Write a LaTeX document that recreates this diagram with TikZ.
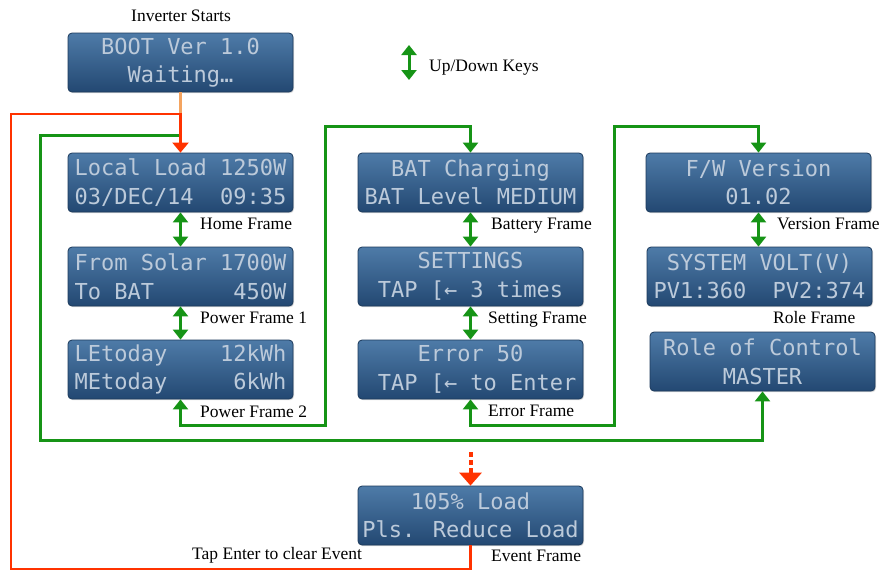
\documentclass[tikz,border=0pt]{standalone}
\usepackage{fontspec}
\setmainfont{Liberation Serif}
\newfontfamily\lcdfont{DejaVu Sans Mono}
\usetikzlibrary{arrows.meta,shadows}
\definecolor{lcdtop}{RGB}{78,123,168}
\definecolor{lcdbot}{RGB}{35,72,114}
\definecolor{lcdedge}{RGB}{28,58,92}
\definecolor{lcdtxt}{RGB}{188,202,218}
\definecolor{gline}{RGB}{22,148,22}
\definecolor{rline}{RGB}{255,51,0}
\definecolor{oline}{RGB}{244,164,96}
\begin{document}
\begin{tikzpicture}[x=1pt,y=-1pt,
 lcd/.style={rectangle, rounded corners=4pt, draw=lcdedge, line width=0.8pt,
   top color=lcdtop, bottom color=lcdbot, minimum width=225pt, minimum height=59pt,
   inner sep=0pt, text=lcdtxt, align=center,
   font=\lcdfont\fontsize{22}{28.5}\selectfont,
   drop shadow={shadow xshift=1pt,shadow yshift=-1.2pt,opacity=0.3}},
 lbl/.style={anchor=base west, font=\fontsize{17.5}{20}\selectfont, inner sep=0pt},
 gpath/.style={draw=gline, line width=3pt},
 gtip/.style={-{Triangle[width=15pt,length=10pt]}},
 gboth/.style={{Triangle[width=15pt,length=10pt]}-{Triangle[width=15pt,length=10pt]}},
 rpath/.style={draw=rline, line width=2.2pt},
]
\useasboundingbox (0,0) rectangle (883,571);

% LCD frames
\node[lcd] (boot) at (180.5,62.5) {BOOT Ver 1.0\\Waiting…};
\node[lcd] (home) at (180.5,182.5) {Local Load 1250W\\03/DEC/14~~09:35};
\node[lcd] (pow1) at (180.5,276.5) {From Solar 1700W\\To BAT~~~~~~450W};
\node[lcd] (pow2) at (180.5,369.5) {LEtoday~~~~12kWh\\MEtoday~~~~~6kWh};
\node[lcd] (bat) at (470.5,182.5) {BAT Charging\\BAT Level MEDIUM};
\node[lcd] (set) at (470.5,276.5) {SETTINGS\\TAP [← 3 times};
\node[lcd] (err) at (470.5,369.5) {Error 50\\~TAP [← to Enter};
\node[lcd] (ver) at (758.5,182.5) {F/W Version\\01.02};
\node[lcd] (role) at (759.5,276.5) {SYSTEM VOLT(V)\\PV1:360~~PV2:374};
\node[lcd] (ctrl) at (762.5,361.5) {Role of Control\\MASTER};
\node[lcd] (evt) at (470.5,515.5) {105\% Load\\Pls. Reduce Load};

% labels
\node[anchor=base, font=\fontsize{17.5}{20}\selectfont, inner sep=0pt] (lstart) at (181,21) {Inverter Starts};
\node[lbl] (lhome) at (200,229) {Home Frame};
\node[lbl] (lp1) at (200,323) {Power Frame 1};
\node[lbl] (lp2) at (200,417) {Power Frame 2};
\node[lbl] (lbat) at (491,229) {Battery Frame};
\node[lbl] (lset) at (488,323) {Setting Frame};
\node[lbl] (lerr) at (488,416) {Error Frame};
\node[lbl] (lver) at (777,229) {Version Frame};
\node[lbl] (lrole) at (773,323) {Role Frame};
\node[lbl] (levt) at (491,561) {Event Frame};
\node[lbl] (ltap) at (192,559) {Tap Enter to clear Event};
\node[lbl] (lkeys) at (429,71) {Up/Down Keys};

% legend icon
\coordinate (icA) at (409,45);
\coordinate (icB) at (409,80);
\draw[gpath, gboth] (icA) -- (icB);

% coordinates for routed lines
\coordinate (jn) at (180.5,114);
\coordinate (rL) at (11,569);
\coordinate (g1) at (180.5,135);
\coordinate (g1a) at (40,135);
\coordinate (g1b) at (40,440);
\coordinate (g2a) at (325,425);
\coordinate (g2b) at (325,126);
\coordinate (g3a) at (614,425);
\coordinate (g3b) at (614,126);
\coordinate (ds) at (470.5,452);

% green loops
\draw[gpath, gtip] (g1) -- (g1a) -- (g1b) -| (ctrl.south);
\draw[gpath, gboth] (pow2.south) |- (g2a) -- (g2b) -| (bat.north);
\draw[gpath, gboth] (err.south) |- (g3a) -- (g3b) -| (ver.north);

% up/down arrows
\draw[gpath, gboth] (home.south) -- (pow1.north);
\draw[gpath, gboth] (pow1.south) -- (pow2.north);
\draw[gpath, gboth] (bat.south) -- (set.north);
\draw[gpath, gboth] (set.south) -- (err.north);
\draw[gpath, gboth] (ver.south) -- (ver.south |- role.north);

% boot / event lines
\draw[draw=oline, line width=2.6pt] (boot.south) -- (jn);
\draw[rpath, -{Triangle[width=16pt,length=10pt]}] (evt.south) |- (rL) |- (jn) -- (home.north);
\draw[draw=rline, line width=4pt, dash pattern=on 5pt off 3pt,
  -{Triangle[width=22pt,length=13pt]}] (ds) -- (evt.north);
\end{tikzpicture}
\end{document}
